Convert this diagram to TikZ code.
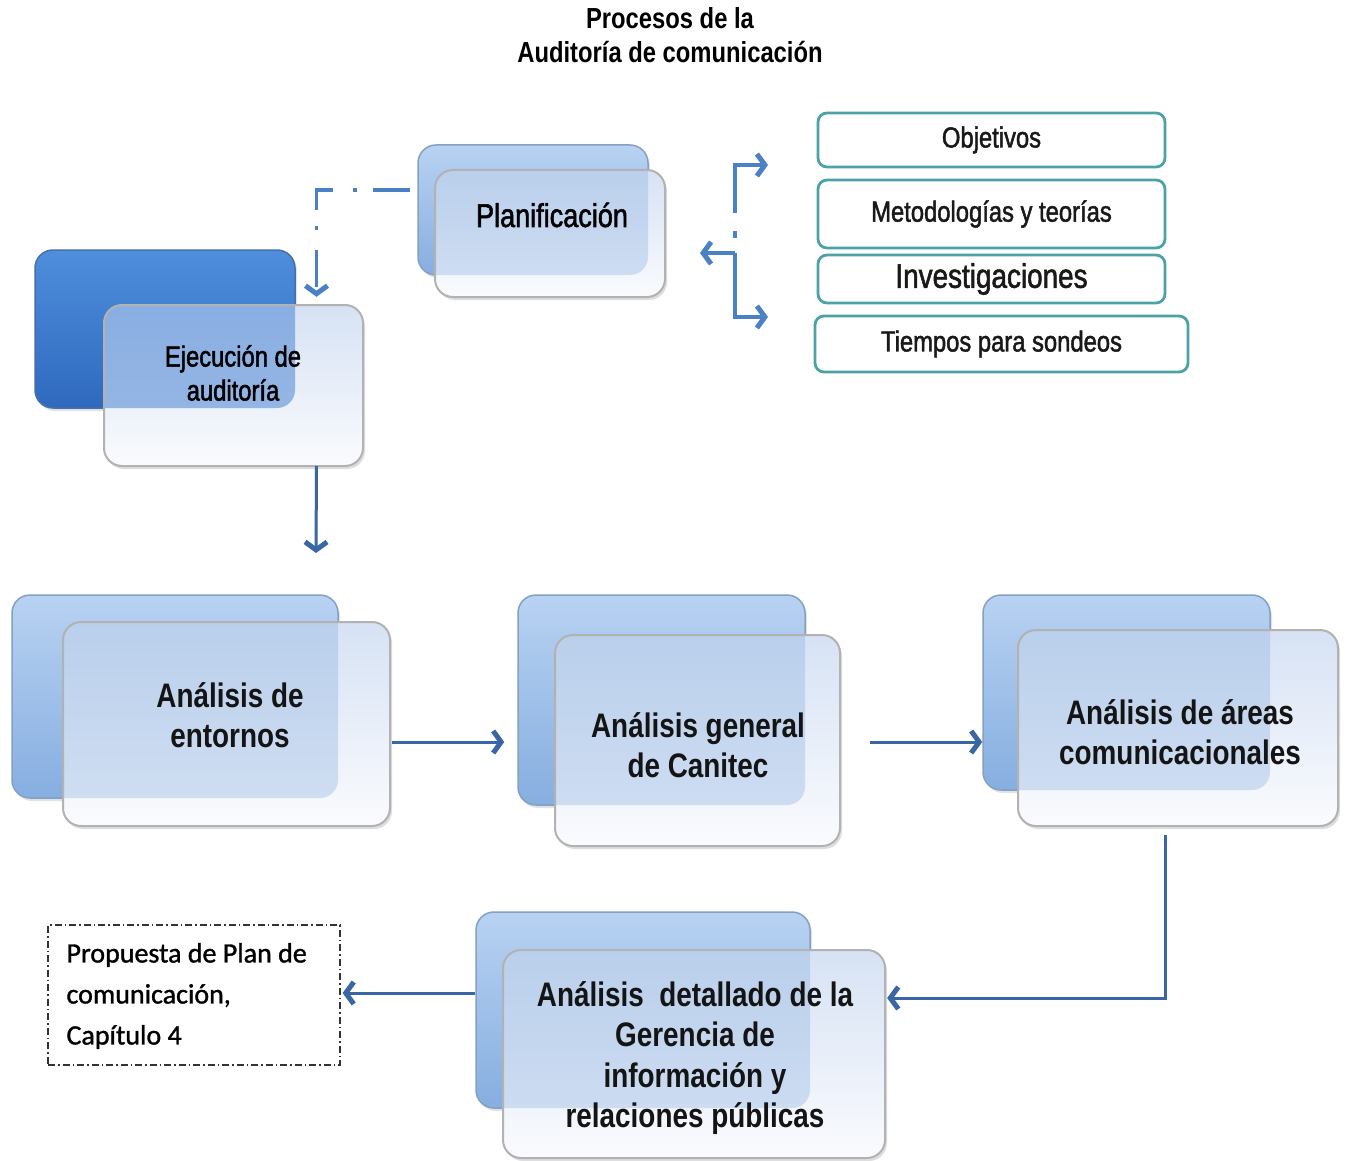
\documentclass[tikz,border=0pt]{standalone}
\usepackage{fontspec}
\setmainfont{Liberation Sans}[FakeStretch=0.82]
\newfontfamily\medfont{Liberation Sans}[FakeStretch=0.82, FakeBold=1.6]
\newfontfamily\calib{Carlito}[FakeBold=1.2]
\usetikzlibrary{arrows.meta,fit,shadows}
\definecolor{arrowblue}{HTML}{3A66A5}
\definecolor{lightarrow}{HTML}{4A80C4}
\definecolor{tealc}{HTML}{4CA2A6}
\definecolor{backtop}{HTML}{B8D2F2}
\definecolor{backbot}{HTML}{86AEE0}
\definecolor{darktop}{HTML}{4F8EDC}
\definecolor{darkbot}{HTML}{2E69BE}
\definecolor{fronttop}{HTML}{D6E2F4}
\definecolor{frontmid}{HTML}{E6EDF8}
\definecolor{frontbot}{HTML}{FAFBFE}
\definecolor{overlight}{HTML}{7FA8DC}
\definecolor{overdark}{HTML}{3D7BD0}
\tikzset{
  backlight/.style={inner sep=0pt, rounded corners=18pt, top color=backtop, bottom color=backbot,
    draw=backbot!70!gray, line width=1.5pt, drop shadow={shadow xshift=2pt, shadow yshift=-3pt, fill=gray!45}},
  backdark/.style={inner sep=0pt, rounded corners=18pt, top color=darktop, bottom color=darkbot,
    draw=darkbot!70!gray, line width=1.5pt, drop shadow={shadow xshift=2pt, shadow yshift=-3pt, fill=gray!45}},
  frontfill/.style={inner sep=0pt, rounded corners=18pt, top color=fronttop, middle color=frontmid, bottom color=frontbot,
    drop shadow={shadow xshift=2pt, shadow yshift=-3pt, fill=gray!50}},
  frontedge/.style={draw=gray!60, line width=2pt, rounded corners=18pt},
  bigtxt/.style={align=center, font=\bfseries\fontsize{34}{40.5}\selectfont, text=black!92},
  tealbox/.style={draw=tealc, line width=2.8pt, fill=white, rounded corners=9pt, inner sep=0pt,
    font=\medfont\fontsize{29}{34}\selectfont, text=black!90},
  arrtip/.style={-{Straight Barb[length=8pt,width=22pt,line width=5pt]}},
  arr/.style={draw=arrowblue, line width=3pt, arrtip},
  larr/.style={draw=lightarrow, line width=3.4pt, arrtip},
  dashdotline/.style={draw=lightarrow, line width=3.4pt, dash pattern=on 37pt off 16pt on 4pt off 20pt},
  propbox/.style={draw=black!80, line width=1.3pt, dash pattern=on 7pt off 3pt on 1.5pt off 3pt, inner sep=0pt}
}
\newcommand{\pairbox}[7]{%
  \node[#6, fit={(#2) (#3)}] (#1b) {};
  \node[frontfill, fit={(#4) (#5)}] (#1) {};
  \begin{scope}
    \clip[rounded corners=18pt] (#4) rectangle (#5);
    \fill[#7, rounded corners=18pt] (#2) rectangle (#3);
  \end{scope}
  \draw[frontedge] (#4) rectangle (#5);
}
\begin{document}
\begin{tikzpicture}[x=1pt,y=-1pt]
\useasboundingbox (0,0) rectangle (1349,1161);
\fill[white] (0,0) rectangle (1349,1161);

% title
\node[align=center, font=\bfseries\fontsize{29}{34}\selectfont] (title) at (670,35)
  {Procesos de la\\Auditoría de comunicación};

% box pairs
\pairbox{plan}{418,145}{648,275}{435,170}{665,297}{backlight}{overlight, fill opacity=0.32}
\pairbox{ejec}{35,250}{295,408}{104,305}{363,466}{backdark}{overdark, fill opacity=0.5}
\pairbox{ent}{12,595}{338,798}{63,622}{390,826}{backlight}{overlight, fill opacity=0.32}
\pairbox{gen}{518,595}{805,805}{555,635}{840,846}{backlight}{overlight, fill opacity=0.32}
\pairbox{are}{983,595}{1270,790}{1018,630}{1338,826}{backlight}{overlight, fill opacity=0.32}
\pairbox{det}{476,912}{810,1108}{503,950}{885,1158}{backlight}{overlight, fill opacity=0.32}

% texts
\node[font=\medfont\fontsize{33}{38}\selectfont] (plantxt) at (552,215) {Planificación};
\node[align=center, font=\medfont\fontsize{29}{34}\selectfont] (ejectxt) at (233,373) {Ejecución de\\auditoría};
\node[bigtxt] (enttxt) at (230,715) {Análisis de\\entornos};
\node[bigtxt] (gentxt) at (698,745) {Análisis general\\de Canitec};
\node[bigtxt] (aretxt) at (1180,732) {Análisis de áreas\\comunicacionales};
\node[bigtxt] (dettxt) at (695,1058) {Análisis\ \ detallado de la\\Gerencia de\\información y\\relaciones públicas};

% teal boxes
\node[tealbox, minimum width=347pt, minimum height=54pt] (obj) at (991.5,140) {Objetivos};
\node[tealbox, minimum width=347pt, minimum height=68pt] (met) at (991.5,214) {Metodologías y teorías};
\node[tealbox, minimum width=347pt, minimum height=48pt, font=\medfont\fontsize{34}{38}\selectfont] (inv) at (991.5,279) {Investigaciones};
\node[tealbox, minimum width=373pt, minimum height=56pt] (tie) at (1001.5,344) {Tiempos para sondeos};

% propuesta
\node[propbox, fit={(48,925) (340,1065)}] (prop) {};
\node[anchor=west, align=left, font=\calib\fontsize{28}{41}\selectfont] (proptxt) at (63,996)
  {Propuesta de Plan de\\comunicación,\\Capítulo 4};

% coordinates
\coordinate (rowy) at (0,742);
\coordinate (turny) at (0,998);
\coordinate (propy) at (0,993);
\coordinate (rA) at (735,213);
\coordinate (rTop) at (768,165);
\coordinate (rB) at (735,253);
\coordinate (rLeft) at (700,253);
\coordinate (rBot) at (768,317);
\coordinate (ejEnd) at (316,553);

% connectors
\draw[dashdotline, arrtip, shorten >=8pt]
  ([shift={(-7pt,20pt)}]planb.west) -| ([xshift=83pt]ejec.north);
\draw[larr] (rA) |- (rTop);
\fill[lightarrow] (733.3,231) rectangle (736.7,238);
\draw[larr] (rB) -- (rLeft);
\draw[larr] (rB) |- (rBot);

\draw[arr] ([xshift=83pt]ejec.south) -- (ejEnd);
\draw[arr, shorten <=2pt, shorten >=13pt] (ent.east |- rowy) -- (genb.west |- rowy);
\draw[arr, shorten <=30pt] (gen.east |- rowy) -- (areb.west |- rowy);
\draw[arr] ([shift={(-13pt,-9pt)}]are.south) |- ([xshift=2pt]det.east |- turny);
\draw[arr, shorten >=2pt] (detb.west |- propy) -- (prop.east |- propy);
\end{tikzpicture}
\end{document}
